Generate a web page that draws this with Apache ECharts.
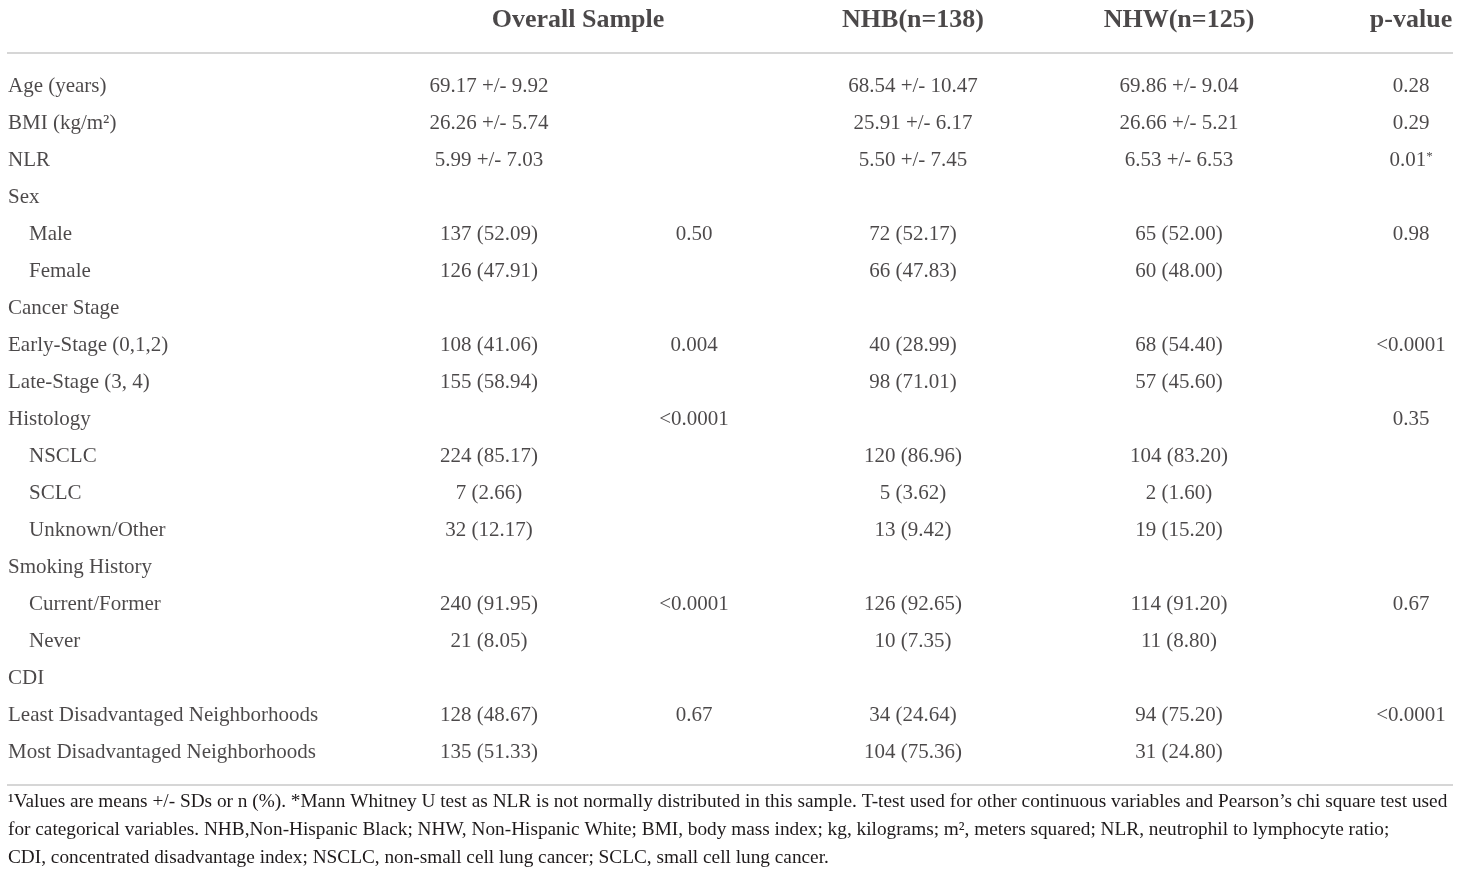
<!DOCTYPE html>
<html><head><meta charset="utf-8">
<script src="https://cdn.jsdelivr.net/npm/echarts@6/dist/echarts.min.js"></script>
<style>html,body{margin:0;padding:0;background:#fff}#c{width:1460px;height:876px}</style>
</head><body><div id="c"></div>
<script>
// ---- data ----
var headers = ['Overall Sample', 'NHB(n=138)', 'NHW(n=125)', 'p-value'];
var rowLabels = ['Age (years)', 'BMI (kg/m²)', 'NLR', 'Sex', 'Male', 'Female', 'Cancer Stage',
  'Early-Stage (0,1,2)', 'Late-Stage (3, 4)', 'Histology', 'NSCLC', 'SCLC', 'Unknown/Other',
  'Smoking History', 'Current/Former', 'Never', 'CDI',
  'Least Disadvantaged Neighborhoods', 'Most Disadvantaged Neighborhoods'];
var subRows = ['Male', 'Female', 'NSCLC', 'SCLC', 'Unknown/Other', 'Current/Former', 'Never'];
var overall = ['69.17 +/- 9.92', '26.26 +/- 5.74', '5.99 +/- 7.03', '', '137 (52.09)', '126 (47.91)', '',
  '108 (41.06)', '155 (58.94)', '', '224 (85.17)', '7 (2.66)', '32 (12.17)', '',
  '240 (91.95)', '21 (8.05)', '', '128 (48.67)', '135 (51.33)'];
var overallP = ['', '', '', '', '0.50', '', '', '0.004', '', '<0.0001', '', '', '', '',
  '<0.0001', '', '', '0.67', ''];
var nhb = ['68.54 +/- 10.47', '25.91 +/- 6.17', '5.50 +/- 7.45', '', '72 (52.17)', '66 (47.83)', '',
  '40 (28.99)', '98 (71.01)', '', '120 (86.96)', '5 (3.62)', '13 (9.42)', '',
  '126 (92.65)', '10 (7.35)', '', '34 (24.64)', '104 (75.36)'];
var nhw = ['69.86 +/- 9.04', '26.66 +/- 5.21', '6.53 +/- 6.53', '', '65 (52.00)', '60 (48.00)', '',
  '68 (54.40)', '57 (45.60)', '', '104 (83.20)', '2 (1.60)', '19 (15.20)', '',
  '114 (91.20)', '11 (8.80)', '', '94 (75.20)', '31 (24.80)'];
var pValue = ['0.28', '0.29', '0.01*', '', '0.98', '', '', '<0.0001', '', '0.35', '', '', '', '',
  '0.67', '', '', '<0.0001', ''];
var footnote = [
  '¹Values are means +/- SDs or n (%). *Mann Whitney U test as NLR is not normally distributed in this sample. T-test used for other continuous variables and Pearson’s chi square test used',
  'for categorical variables. NHB,Non-Hispanic Black; NHW, Non-Hispanic White; BMI, body mass index; kg, kilograms; m², meters squared; NLR, neutrophil to lymphocyte ratio;',
  'CDI, concentrated disadvantage index; NSCLC, non-small cell lung cancer; SCLC, small cell lung cancer.'
];

// ---- layout ----
var FONT = 'Liberation Serif';
var TXT = '#1e1a1b';
var colLabelX = 8, colIndentX = 29;
var colX = { overall: 489, overallP: 694, nhb: 913, nhw: 1179, p: 1411 };
var headerX = [578, 913, 1179, 1411];

var rowIdx = rowLabels.map(function (_, i) { return String(i); });

function cellSeries(values, x) {
  var d = [];
  values.forEach(function (v, i) { if (v !== '') d.push({ value: [x, String(i)], txt: v }); });
  return {
    type: 'scatter', xAxisIndex: 0, yAxisIndex: 0, symbolSize: 0, silent: true, data: d,
    label: {
      show: true, position: 'inside', color: TXT, fontFamily: FONT, fontSize: 21,
      formatter: function (p) { return p.data.txt.replace('*', '{sup|*}'); },
      rich: { sup: { fontSize: 13, verticalAlign: 'top', fontFamily: FONT, color: TXT, padding: [0, 0, 8, 0] } }
    }
  };
}

var labelData = rowLabels.map(function (l, i) {
  return { value: [subRows.indexOf(l) >= 0 ? colIndentX : colLabelX, String(i)], txt: l };
});

var option = {
  animation: false,
  backgroundColor: '#fff',
  grid: [
    { left: 0, right: 0, top: 68, height: 703 },
    { left: 0, right: 0, top: 2, height: 36 }
  ],
  xAxis: [
    { type: 'value', min: 0, max: 1460, show: false, gridIndex: 0 },
    { type: 'value', min: 0, max: 1460, show: false, gridIndex: 1 }
  ],
  yAxis: [
    { type: 'category', data: rowIdx, inverse: true, show: false, gridIndex: 0 },
    { type: 'category', data: ['h'], show: false, gridIndex: 1 }
  ],
  title: {
    left: 8, top: 788, padding: 0,
    text: footnote.join('\n'),
    textStyle: { fontFamily: FONT, fontSize: 19.3, fontWeight: 'normal', color: TXT, lineHeight: 28 }
  },
  graphic: [
    { type: 'line', shape: { x1: 7, y1: 53, x2: 1453, y2: 53 }, style: { stroke: '#c8c8c8', lineWidth: 1.5 } },
    { type: 'line', shape: { x1: 7, y1: 785, x2: 1453, y2: 785 }, style: { stroke: '#c8c8c8', lineWidth: 1.5 } }
  ],
  series: [
    {
      type: 'scatter', xAxisIndex: 1, yAxisIndex: 1, symbolSize: 0, silent: true,
      data: headers.map(function (h, i) { return { value: [headerX[i], 'h'], txt: h }; }),
      label: { show: true, position: 'inside', color: TXT, fontFamily: FONT, fontSize: 26, fontWeight: 'bold',
        formatter: function (p) { return p.data.txt; } }
    },
    {
      type: 'scatter', xAxisIndex: 0, yAxisIndex: 0, symbolSize: 0, silent: true, data: labelData,
      label: { show: true, position: 'right', distance: 0, color: TXT, fontFamily: FONT, fontSize: 21,
        formatter: function (p) { return p.data.txt; } }
    },
    cellSeries(overall, colX.overall),
    cellSeries(overallP, colX.overallP),
    cellSeries(nhb, colX.nhb),
    cellSeries(nhw, colX.nhw),
    cellSeries(pValue, colX.p)
  ]
};
var chart = echarts.init(document.getElementById('c'), null, { renderer: 'canvas' });
chart.setOption(option);
</script></body></html>
